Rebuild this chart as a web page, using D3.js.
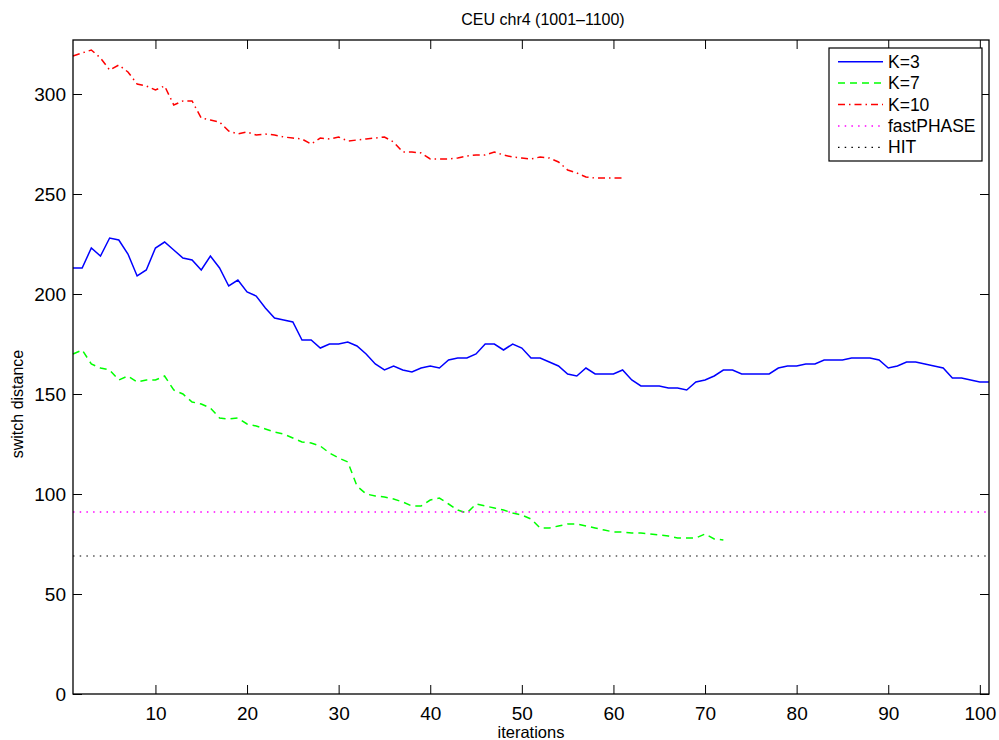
<!DOCTYPE html>
<html>
<head>
<meta charset="utf-8">
<script src="https://cdn.jsdelivr.net/npm/d3@7"></script>
<style>
  body { margin: 0; background: #fff; }
  svg { font-family: "Liberation Sans", Arial, Helvetica, sans-serif; }
</style>
</head>
<body>
<div id="chart"></div>
<script>
// switch distance per iteration
const k3 = [213, 213, 223, 219, 228, 227, 220, 209, 212, 223,
            226, 222, 218, 217, 212, 219, 213, 204, 207, 201,
            199, 193, 188, 187, 186, 177, 177, 173, 175, 175,
            176, 174, 170, 165, 162, 164, 162, 161, 163, 164,
            163, 167, 168, 168, 170, 175, 175, 172, 175, 173,
            168, 168, 166, 164, 160, 159, 163, 160, 160, 160,
            162, 157, 154, 154, 154, 153, 153, 152, 156, 157,
            159, 162, 162, 160, 160, 160, 160, 163, 164, 164,
            165, 165, 167, 167, 167, 168, 168, 168, 167, 163,
            164, 166, 166, 165, 164, 163, 158, 158, 157, 156, 156];

const k7 = [170, 172, 165, 163, 162, 157, 159, 156, 157, 157,
            159, 152, 150, 146, 145, 143, 138, 137.5, 138, 135,
            134, 132.5, 131, 130, 128, 126, 125.5, 124, 120.5, 118,
            116, 104, 100, 99, 98.5, 97.5, 96, 94, 94, 97,
            98, 95, 92, 90.5, 95, 94, 93, 92, 90.5, 89.5,
            87.5, 83, 83, 84, 85, 85, 84, 83, 82, 81,
            81, 80.5, 80.5, 80, 79.5, 79, 78, 78, 78, 80,
            77.5, 77];

const k10 = [319, 320.5, 322, 318, 312, 314.5, 311, 305, 304, 302,
             304, 294.5, 296.5, 296.5, 288, 287, 286, 281.5, 280, 281,
             279.5, 280, 279.5, 278.5, 278, 277.5, 275, 278, 277.5, 278.5,
             276.5, 277, 277.5, 278, 278.5, 276, 271, 271, 270.5, 267.5,
             267.5, 267.5, 268, 269, 269.5, 269.5, 271, 269.5, 268.5, 268,
             267.5, 268.5, 268, 266, 262, 260.5, 258.5, 258, 258, 258, 258];

const fastPhase = 91;
const hit = 69;

const xTicks = [10, 20, 30, 40, 50, 60, 70, 80, 90, 100];
const yTicks = [0, 50, 100, 150, 200, 250, 300];

const width = 999, height = 740;
const margin = {top: 40, right: 10, bottom: 46, left: 73};

const svg = d3.select("#chart").append("svg")
    .attr("width", width)
    .attr("height", height);

const x = d3.scaleLinear()
    .domain([1, 101])
    .range([margin.left, width - margin.right]);

const y = d3.scaleLinear()
    .domain([0, 327])
    .range([height - margin.bottom, margin.top]);

// series definitions
const series = [
    {name: "K=3", values: k3, color: "#0000ff", dash: null, w: 1.5},
    {name: "K=7", values: k7, color: "#00ff00", dash: "7,5", w: 1.5},
    {name: "K=10", values: k10, color: "#ff0000", dash: "7,4,1.5,4", w: 1.5},
    {name: "fastPHASE", values: d3.range(1, 102).map(() => fastPhase), color: "#ff00ff", dash: "1.5,5.2", w: 1.5},
    {name: "HIT", values: d3.range(1, 102).map(() => hit), color: "#000000", dash: "1.5,5.2", w: 1.2}
];

const line = d3.line()
    .x((d, i) => x(i + 1))
    .y(d => y(d));

svg.append("g").selectAll("path")
    .data(series)
    .join("path")
    .attr("d", d => line(d.values))
    .attr("fill", "none")
    .attr("stroke", d => d.color)
    .attr("stroke-width", d => d.w)
    .attr("stroke-dasharray", d => d.dash);

// axes - matlab style, ticks pointing in, box around
const tickLen = 9;
const xAxis = svg.append("g")
    .attr("transform", `translate(0,${height - margin.bottom})`)
    .call(d3.axisBottom(x).tickValues(xTicks).tickSize(-tickLen).tickPadding(13));
const xTop = svg.append("g")
    .attr("transform", `translate(0,${margin.top})`)
    .call(d3.axisTop(x).tickValues(xTicks).tickSize(-tickLen).tickFormat(""));
const yAxis = svg.append("g")
    .attr("transform", `translate(${margin.left},0)`)
    .call(d3.axisLeft(y).tickValues(yTicks).tickSize(-tickLen).tickPadding(7));
const yRight = svg.append("g")
    .attr("transform", `translate(${width - margin.right},0)`)
    .call(d3.axisRight(y).tickValues(yTicks).tickSize(-tickLen).tickFormat(""));

[xAxis, xTop, yAxis, yRight].forEach(g => {
    g.select(".domain").remove();
    g.selectAll(".tick line").attr("stroke", "#000");
    g.selectAll(".tick text")
        .attr("fill", "#000")
        .style("font-size", "19px")
        .style("font-family", "Liberation Sans, Arial, sans-serif");
});

svg.append("rect")
    .attr("x", margin.left)
    .attr("y", margin.top)
    .attr("width", width - margin.right - margin.left)
    .attr("height", height - margin.bottom - margin.top)
    .attr("fill", "none")
    .attr("stroke", "#000")
    .attr("stroke-width", 1.3);

// title and labels
svg.append("text")
    .attr("x", 543)
    .attr("y", 25)
    .attr("text-anchor", "middle")
    .style("font-size", "16px")
    .text("CEU chr4 (1001\u20131100)");

svg.append("text")
    .attr("x", 531)
    .attr("y", 738)
    .attr("text-anchor", "middle")
    .style("font-size", "16.5px")
    .text("iterations");

svg.append("text")
    .attr("transform", "translate(23,404) rotate(-90)")
    .attr("text-anchor", "middle")
    .style("font-size", "16px")
    .text("switch distance");

// legend
const lg = svg.append("g").attr("transform", "translate(829,48)");
lg.append("rect")
    .attr("width", 153)
    .attr("height", 113)
    .attr("fill", "#fff")
    .attr("stroke", "#000")
    .attr("stroke-width", 1.2);

const item = lg.selectAll("g.item")
    .data(series)
    .join("g")
    .attr("class", "item")
    .attr("transform", (d, i) => `translate(0,${13.7 + i * 21.4})`);

item.append("line")
    .attr("x1", 9).attr("x2", 54)
    .attr("stroke", d => d.color)
    .attr("stroke-width", d => d.w)
    .attr("stroke-dasharray", d => d.dash);

item.append("text")
    .attr("x", 59)
    .attr("dy", "0.35em")
    .style("font-size", "17.5px")
    .text(d => d.name);
</script>
</body>
</html>
